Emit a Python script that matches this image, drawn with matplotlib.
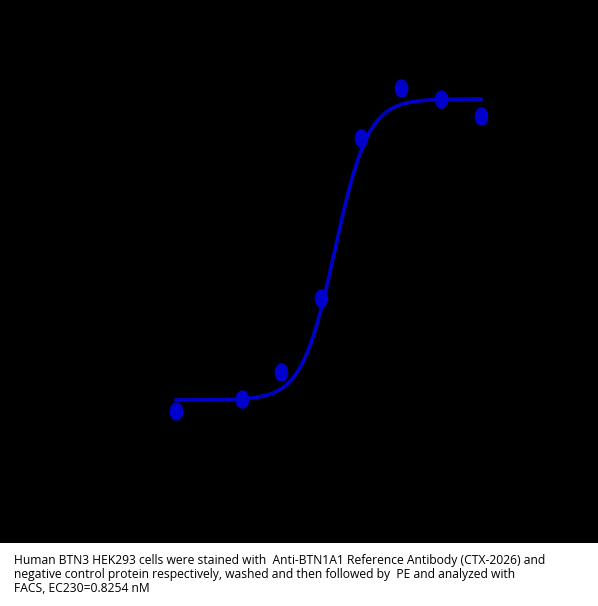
import numpy as np
import matplotlib
matplotlib.use("Agg")
import matplotlib.pyplot as plt

# concentration (nM) and MFI
conc = [0.0106, 0.065, 0.19, 0.556, 1.67, 5.0, 15.0, 45.0]
mfi = [1320, 1440, 1710, 2450, 4050, 4550, 4440, 4270]

# 4PL fit parameters
bottom, top, ec50, hill = 1430, 4440, 0.8254, 2.2

caption = ("Human BTN3 HEK293 cells were stained with  Anti-BTN1A1 Reference Antibody (CTX-2026) and\n"
           "negative control protein respectively, washed and then followed by  PE and analyzed with\n"
           "FACS, EC230=0.8254 nM")

blue = "#0000CC"

fig = plt.figure(figsize=(5.98, 6.06), dpi=100, facecolor="white")
ax = fig.add_axes([0, 63 / 606, 1, 543 / 606])
ax.set_facecolor("black")

x_fit = np.logspace(np.log10(min(conc)), np.log10(max(conc)), 300)
y_fit = bottom + (top - bottom) / (1 + (ec50 / x_fit) ** hill)
ax.plot(x_fit, y_fit, color=blue, linewidth=2.6)

# oval markers, taller than wide
t = np.linspace(0, 2 * np.pi, 40)
oval = np.column_stack([0.72 * np.cos(t), np.sin(t)])
ax.scatter(conc, mfi, marker=oval, s=150, color=blue, zorder=3)

ax.set_xscale("log")
lx0 = np.log10(ec50) - 335 / 84
lx1 = np.log10(ec50) + 263 / 84
ax.set_xlim(10 ** lx0, 10 ** lx1)
ax.set_ylim(0, 5430)
ax.set_xticks([])
ax.set_yticks([])
ax.minorticks_off()
for s in ax.spines.values():
    s.set_visible(False)

fig.text(14 / 598, 1 - 554 / 606, caption, ha="left", va="top",
         fontsize=8.7, family=["Open Sans", "DejaVu Sans"], linespacing=1.12)

fig.savefig("out.png", dpi=100, facecolor="white")
